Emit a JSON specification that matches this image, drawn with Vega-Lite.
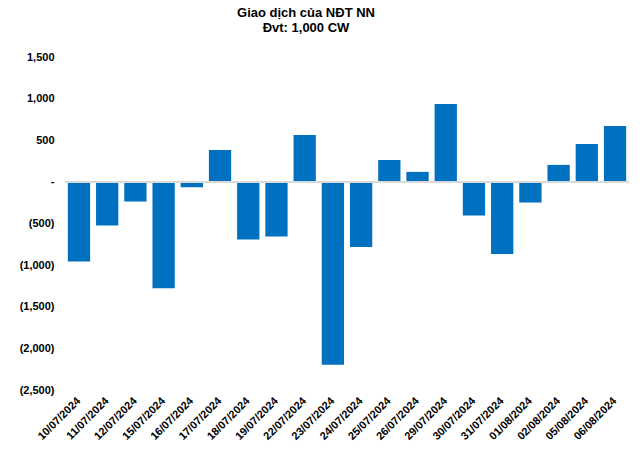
{
  "$schema": "https://vega.github.io/schema/vega-lite/v6.json",
  "width": 564,
  "height": 333,
  "autosize": {"type": "none"},
  "padding": {"left": 65, "top": 57, "right": 11, "bottom": 62},
  "background": "white",
  "title": {
    "text": ["Giao dịch của NĐT NN", "Đvt: 1,000 CW"],
    "font": "Liberation Sans",
    "fontSize": 13,
    "fontWeight": "bold",
    "lineHeight": 15,
    "color": "#000000",
    "anchor": "middle",
    "offset": 16,
    "dx": -41
  },
  "config": {
    "view": {"stroke": null},
    "axis": {"labelFont": "Liberation Sans", "labelFontWeight": "bold", "labelColor": "#000000", "labelFontSize": 11}
  },
  "data": {
    "values": [
      {"date": "10/07/2024", "value": -955},
      {"date": "11/07/2024", "value": -523},
      {"date": "12/07/2024", "value": -236},
      {"date": "15/07/2024", "value": -1278},
      {"date": "16/07/2024", "value": -65},
      {"date": "17/07/2024", "value": 383},
      {"date": "18/07/2024", "value": -691},
      {"date": "19/07/2024", "value": -655},
      {"date": "22/07/2024", "value": 563},
      {"date": "23/07/2024", "value": -2196},
      {"date": "24/07/2024", "value": -783},
      {"date": "25/07/2024", "value": 263},
      {"date": "26/07/2024", "value": 120},
      {"date": "29/07/2024", "value": 934},
      {"date": "30/07/2024", "value": -404},
      {"date": "31/07/2024", "value": -867},
      {"date": "01/08/2024", "value": -248},
      {"date": "02/08/2024", "value": 204},
      {"date": "05/08/2024", "value": 455},
      {"date": "06/08/2024", "value": 671}
    ]
  },
  "layer": [
    {
      "mark": {"type": "bar", "color": "#0070C0"},
      "encoding": {
        "x": {
          "field": "date", "type": "nominal", "sort": null,
          "scale": {"paddingInner": 0.21, "paddingOuter": 0.1},
          "axis": {"title": null, "labelAngle": -45, "labelAlign": "right", "labelBaseline": "middle", "domain": false, "ticks": false, "labelPadding": 9}
        },
        "y": {
          "field": "value", "type": "quantitative",
          "scale": {"domain": [-2500, 1500], "nice": false},
          "axis": {
            "title": null, "grid": false, "domain": false, "ticks": false,
            "values": [-2500, -2000, -1500, -1000, -500, 0, 500, 1000, 1500],
            "labelPadding": 11,
            "labelExpr": "datum.value == 0 ? '-\u00a0\u00a0\u00a0\u00a0' : (datum.value < 0 ? '(' + format(-datum.value, ',') + ')' : format(datum.value, ',') + '\u00a0')"
          }
        }
      }
    },
    {
      "mark": {"type": "rule", "color": "#D9D9D9", "strokeWidth": 1},
      "encoding": {"y": {"datum": 0}}
    }
  ]
}
